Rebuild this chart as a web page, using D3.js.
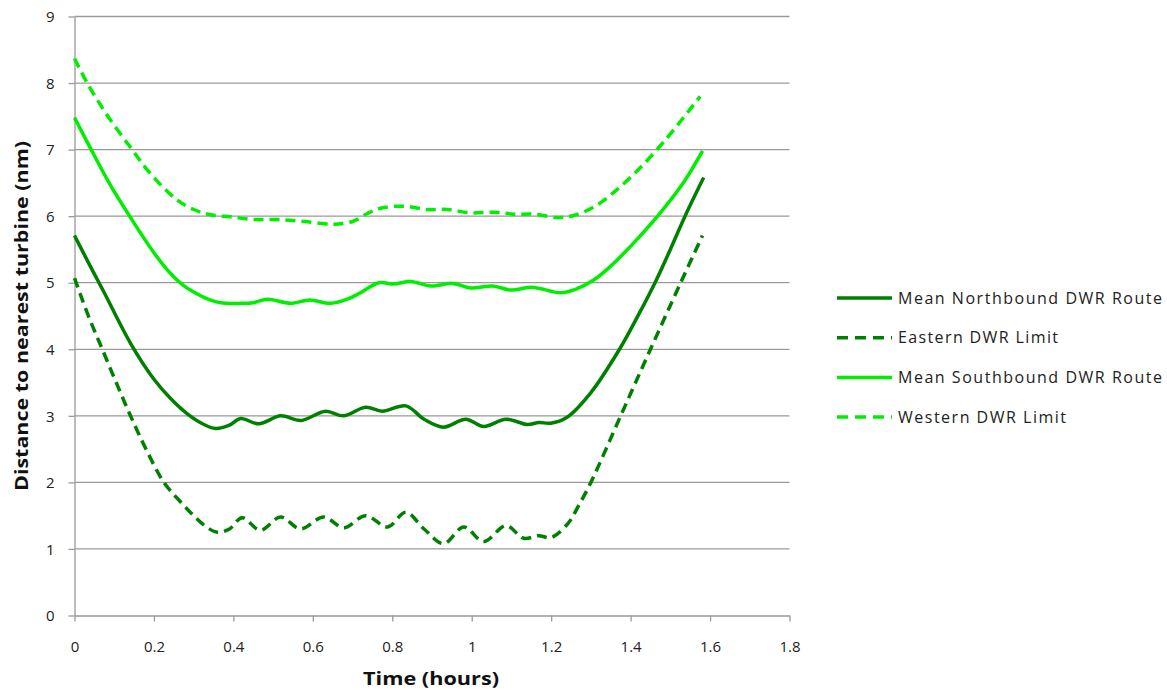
<!DOCTYPE html>
<html>
<head>
<meta charset="utf-8">
<script src="https://cdn.jsdelivr.net/npm/d3@7"></script>
<style>
  html, body { margin: 0; padding: 0; background: #fff; }
  svg { display: block; font-family: "Open Sans", "Liberation Sans", sans-serif; }
</style>
</head>
<body>
<svg id="chart" width="1167" height="690"></svg>
<script>
// Distance to nearest turbine over time for the deep water route (DWR)
const xTicks = [0, 0.2, 0.4, 0.6, 0.8, 1, 1.2, 1.4, 1.6, 1.8];
const yTicks = [0, 1, 2, 3, 4, 5, 6, 7, 8, 9];

const seriesNames = [
  "Mean Northbound DWR Route",
  "Eastern DWR Limit",
  "Mean Southbound DWR Route",
  "Western DWR Limit"
];

const northbound = [
  [0, 5.71], [0.037, 5.28], [0.074, 4.86], [0.141, 4.09], [0.2, 3.55], [0.242, 3.26],
  [0.284, 3.03], [0.326, 2.87], [0.355, 2.81], [0.39, 2.86], [0.418, 2.96], [0.464, 2.88],
  [0.519, 3.0], [0.57, 2.93], [0.632, 3.07], [0.677, 3.0], [0.733, 3.13], [0.775, 3.07],
  [0.834, 3.15], [0.88, 2.95], [0.929, 2.83], [0.985, 2.95], [1.03, 2.84], [1.086, 2.95],
  [1.14, 2.87], [1.169, 2.9], [1.199, 2.89], [1.24, 2.98], [1.3, 3.35], [1.372, 4.0],
  [1.42, 4.52], [1.463, 5.02], [1.5, 5.5], [1.537, 6.0], [1.584, 6.58]
];

const eastern = [
  [0, 5.07], [0.035, 4.5], [0.07, 4.0], [0.105, 3.5], [0.141, 3.0], [0.18, 2.5],
  [0.225, 2.0], [0.265, 1.72], [0.3, 1.5], [0.33, 1.34], [0.36, 1.25], [0.39, 1.3],
  [0.422, 1.47], [0.468, 1.28], [0.519, 1.48], [0.569, 1.3], [0.627, 1.48], [0.678, 1.32],
  [0.733, 1.5], [0.788, 1.33], [0.834, 1.55], [0.88, 1.3], [0.929, 1.08], [0.98, 1.33],
  [1.03, 1.11], [1.086, 1.35], [1.131, 1.16], [1.169, 1.2], [1.199, 1.17], [1.242, 1.38],
  [1.27, 1.66], [1.3, 2.0], [1.375, 3.0], [1.45, 4.0], [1.526, 5.0], [1.581, 5.71]
];

const southbound = [
  [0, 7.48], [0.042, 7.0], [0.09, 6.47], [0.141, 5.98], [0.2, 5.45], [0.24, 5.15],
  [0.27, 4.98], [0.3, 4.86], [0.33, 4.77], [0.368, 4.7], [0.42, 4.69], [0.45, 4.7],
  [0.486, 4.75], [0.544, 4.69], [0.592, 4.74], [0.645, 4.69], [0.69, 4.76], [0.72, 4.85],
  [0.766, 5.0], [0.804, 4.98], [0.846, 5.02], [0.897, 4.95], [0.952, 4.99], [0.997, 4.92],
  [1.053, 4.95], [1.098, 4.89], [1.154, 4.93], [1.224, 4.85], [1.265, 4.91], [1.307, 5.04],
  [1.35, 5.25], [1.405, 5.58], [1.468, 6.0], [1.535, 6.52], [1.581, 6.98]
];

const western = [
  [0, 8.37], [0.032, 8.0], [0.082, 7.52], [0.145, 7.0], [0.191, 6.64], [0.259, 6.24],
  [0.3, 6.1], [0.343, 6.02], [0.393, 5.99], [0.451, 5.95], [0.51, 5.95], [0.578, 5.92],
  [0.652, 5.88], [0.7, 5.92], [0.737, 6.04], [0.771, 6.12], [0.829, 6.15], [0.888, 6.1],
  [0.939, 6.1], [0.997, 6.05], [1.056, 6.06], [1.106, 6.03], [1.156, 6.03], [1.216, 5.98],
  [1.257, 6.01], [1.308, 6.14], [1.358, 6.36], [1.408, 6.63], [1.459, 6.95], [1.509, 7.3],
  [1.575, 7.8]
];

const DARK = "#008000";
const LIGHT = "#00ee00";
const series = [
  { name: seriesNames[0], data: northbound, color: DARK, dash: null },
  { name: seriesNames[1], data: eastern, color: DARK, dash: "10,6" },
  { name: seriesNames[2], data: southbound, color: LIGHT, dash: null },
  { name: seriesNames[3], data: western, color: LIGHT, dash: "10,6" }
];

const svg = d3.select("#chart");
const plot = { left: 74.5, right: 789.5, top: 16.5, bottom: 615.5 };

const x = d3.scaleLinear().domain([0, 1.8]).range([plot.left, plot.right]);
const y = d3.scaleLinear().domain([0, 9]).range([plot.bottom, plot.top]);

// horizontal gridlines
svg.append("g")
  .selectAll("line")
  .data(yTicks.filter(d => d > 0))
  .join("line")
  .attr("x1", plot.left).attr("x2", plot.right)
  .attr("y1", d => y(d)).attr("y2", d => y(d))
  .attr("stroke", "#9a9a9a").attr("stroke-width", 1.3);

// axes
const xAxis = svg.append("g")
  .attr("transform", `translate(0,${plot.bottom})`)
  .call(d3.axisBottom(x).tickValues(xTicks).tickFormat(d3.format("")).tickSize(6).tickSizeOuter(0));
const yAxis = svg.append("g")
  .attr("transform", `translate(${plot.left},0)`)
  .call(d3.axisLeft(y).tickValues(yTicks).tickSize(6).tickSizeOuter(0));

[xAxis, yAxis].forEach(g => {
  g.select(".domain").attr("stroke", "#9a9a9a").attr("stroke-width", 1.3);
  g.selectAll(".tick line").attr("stroke", "#9a9a9a").attr("stroke-width", 1.3);
  g.selectAll(".tick text")
    .attr("fill", "#222")
    .style("font-size", "15px")
    .style("font-family", "'Open Sans', 'Liberation Sans', sans-serif");
});
xAxis.selectAll(".tick text").attr("dy", "0").attr("y", 36);
yAxis.selectAll(".tick text").attr("x", -20).attr("dy", "0.35em");

// series lines
const line = d3.line()
  .x(d => x(d[0]))
  .y(d => y(d[1]))
  .curve(d3.curveCatmullRom.alpha(0.5));

svg.append("g")
  .selectAll("path")
  .data(series)
  .join("path")
  .attr("d", d => line(d.data))
  .attr("fill", "none")
  .attr("stroke", d => d.color)
  .attr("stroke-width", 3.5)
  .attr("stroke-linejoin", "round")
  .attr("stroke-dasharray", d => d.dash);

// axis titles
svg.append("text")
  .attr("x", 431).attr("y", 685)
  .attr("text-anchor", "middle")
  .attr("font-weight", "bold")
  .attr("font-size", 18)
  .attr("fill", "#111")
  .attr("textLength", 136)
  .attr("lengthAdjust", "spacingAndGlyphs")
  .text("Time (hours)");

svg.append("text")
  .attr("transform", `translate(28,316) rotate(-90)`)
  .attr("text-anchor", "middle")
  .attr("font-weight", "bold")
  .attr("font-size", 17)
  .attr("fill", "#111")
  .attr("textLength", 350)
  .attr("lengthAdjust", "spacingAndGlyphs")
  .text("Distance to nearest turbine (nm)");

// legend
const legendWidths = [264, 160, 264, 168];
const legend = svg.append("g");
const rows = legend.selectAll("g")
  .data(series)
  .join("g")
  .attr("transform", (d, i) => `translate(837,${298 + i * 39.7})`);

rows.append("line")
  .attr("x1", 0).attr("x2", 55)
  .attr("stroke", d => d.color)
  .attr("stroke-width", 3.5)
  .attr("stroke-dasharray", d => d.dash ? "11,7" : null);

rows.append("text")
  .attr("x", 61).attr("dy", "0.35em")
  .attr("font-size", 16)
  .attr("fill", "#222")
  .attr("textLength", (d, i) => legendWidths[i])
  .attr("lengthAdjust", "spacing")
  .text(d => d.name);
</script>
</body>
</html>
